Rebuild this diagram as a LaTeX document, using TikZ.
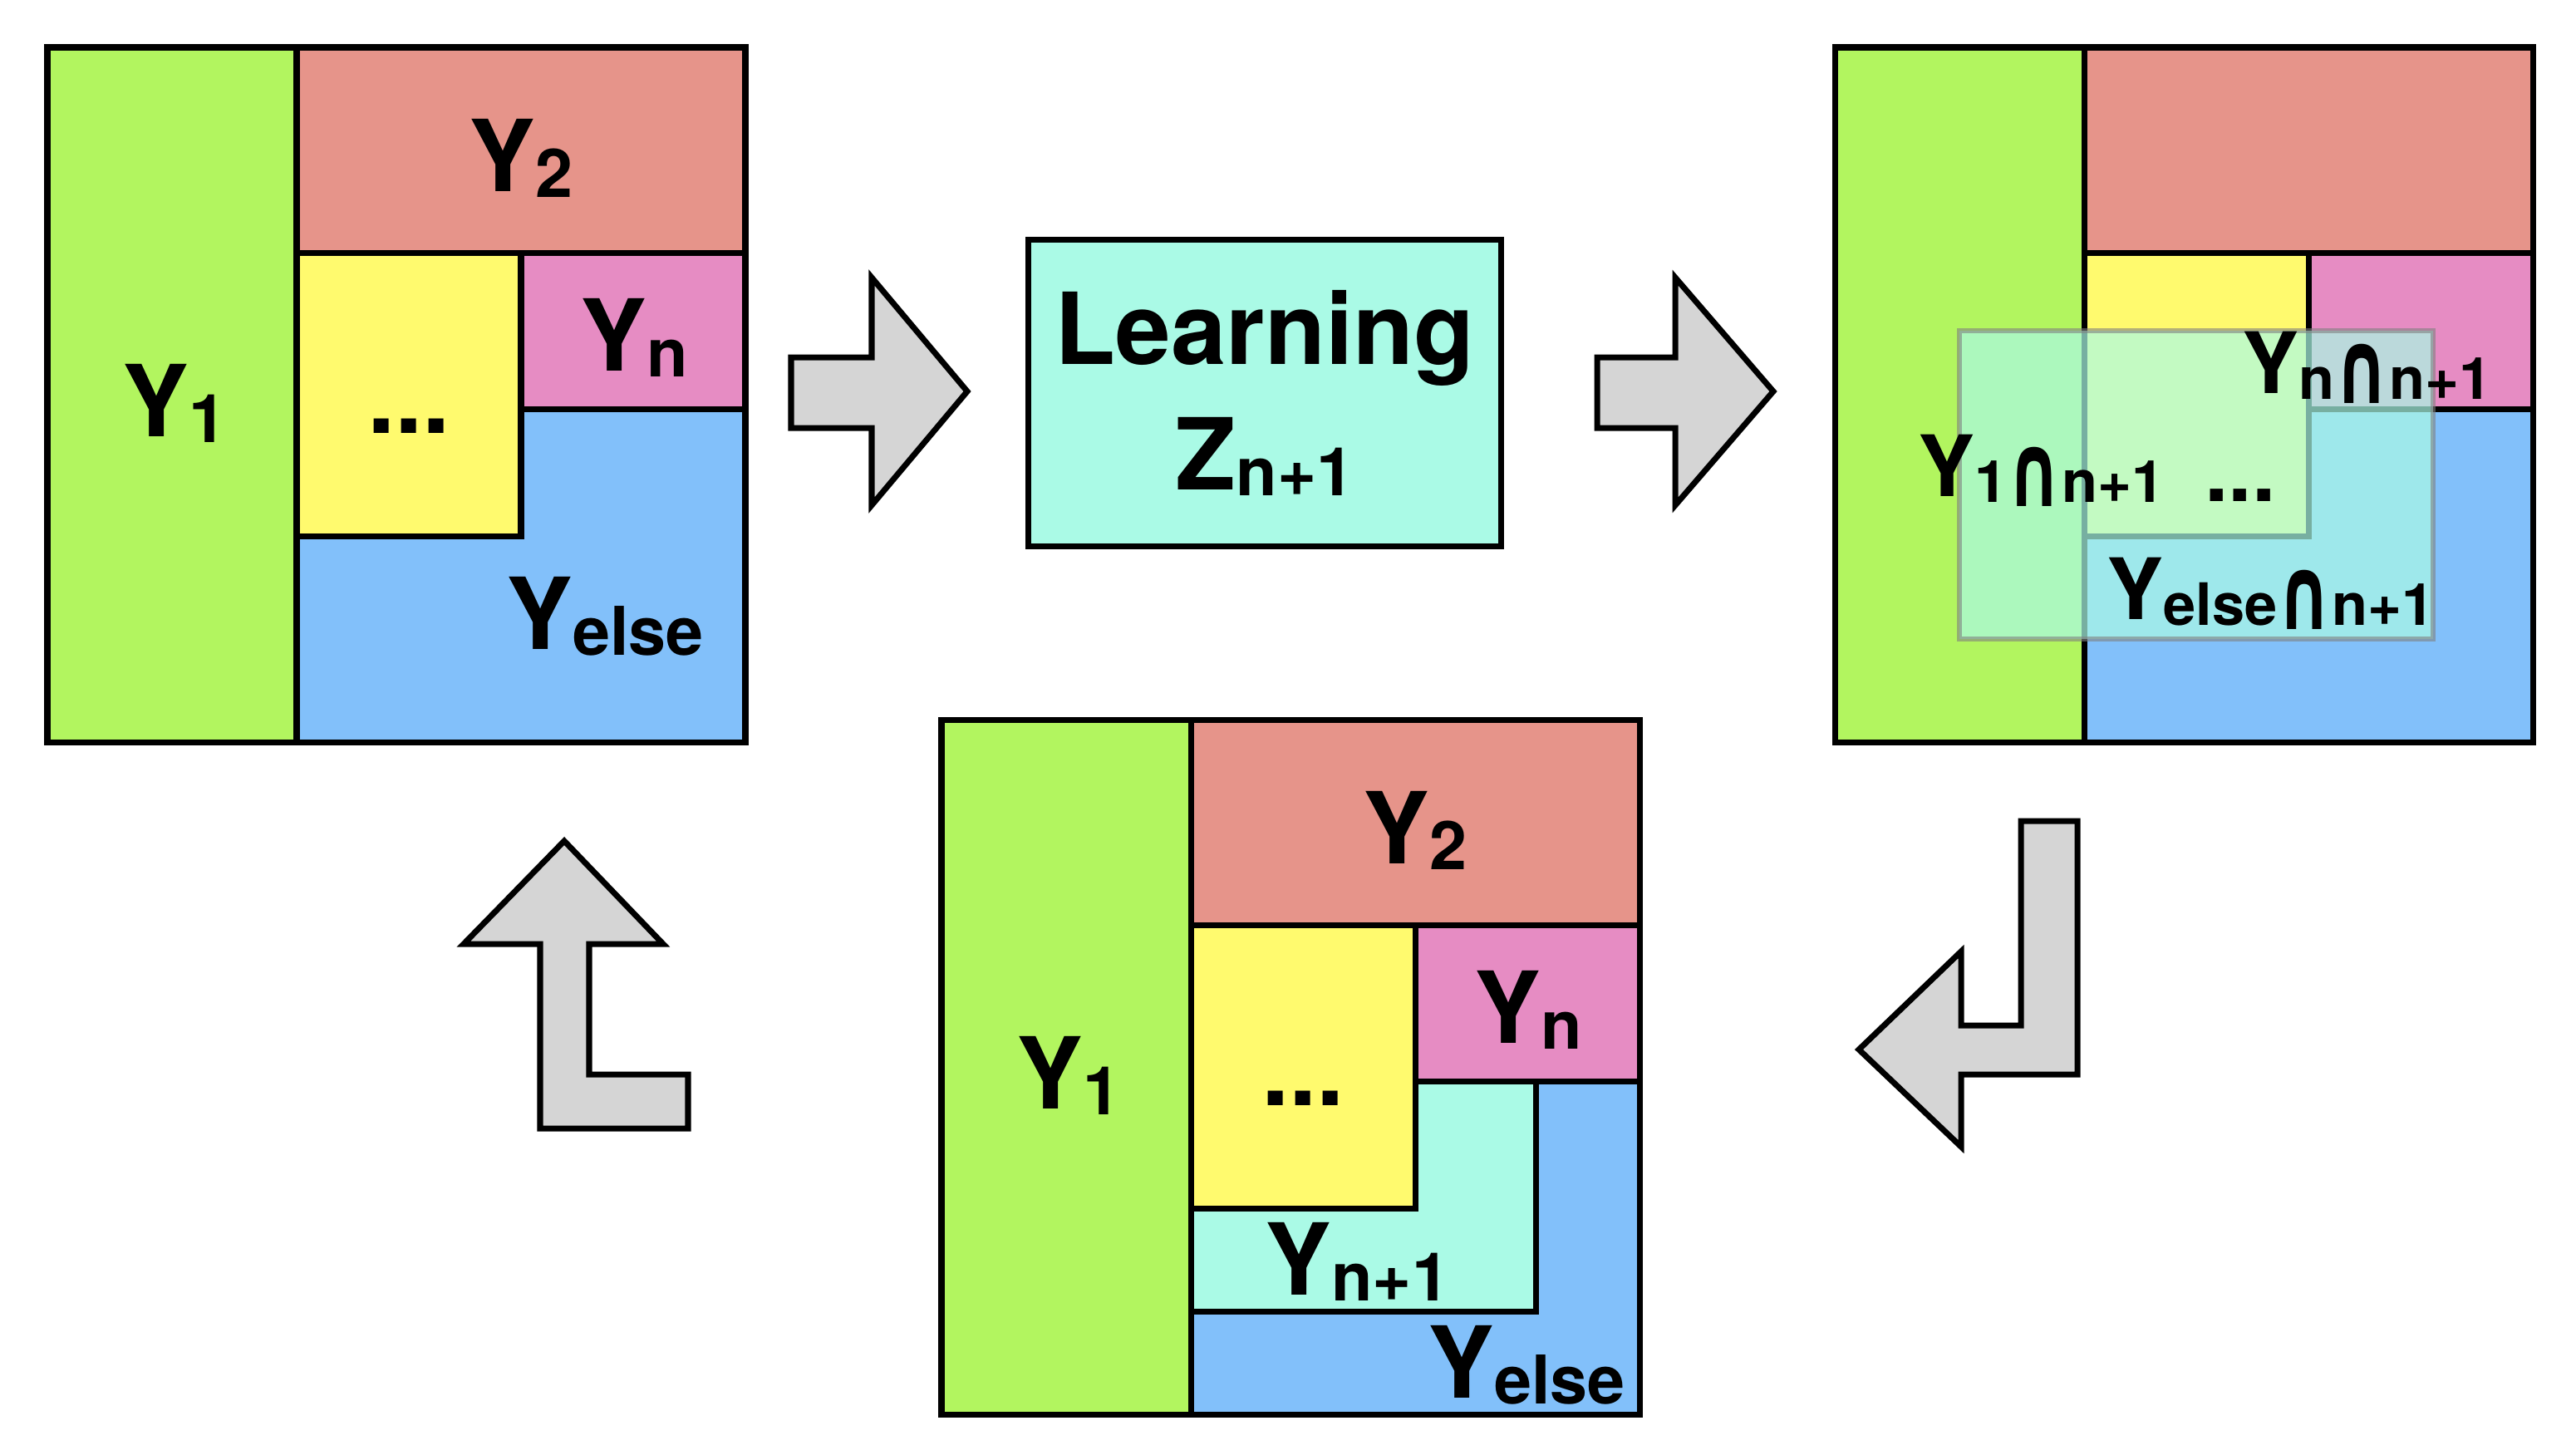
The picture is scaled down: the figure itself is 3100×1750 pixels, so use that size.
\documentclass[tikz,border=0pt]{standalone}
\usepackage{fontspec}
\setmainfont{TeX Gyre Heros}
\newfontfamily\symfont{DejaVu Sans}
\usetikzlibrary{positioning}

\definecolor{ygreen}{HTML}{B2F55F}
\definecolor{yred}{HTML}{E6948A}
\definecolor{yyellow}{HTML}{FFFA6E}
\definecolor{ypink}{HTML}{E68CC3}
\definecolor{yblue}{HTML}{82C0FA}
\definecolor{ycyan}{HTML}{AAFAE6}
\definecolor{arrowgray}{HTML}{D5D5D5}

% letter with a lowered index
\newcommand{\Yidx}[2][Y]{#1{\fontsize{23}{26}\selectfont\raisebox{-2pt}{#2}}}
\newcommand{\Ycap}[1]{Y{\fontsize{20}{23}\selectfont\raisebox{-2pt}{#1}}}
\newcommand{\capsym}{\raisebox{-1.5pt}{\scalebox{1.15}[1.75]{\symfont ∩}}}

\tikzset{
    part/.style={draw=black, line width=2pt},
    lab/.style={inner sep=0pt, anchor=base west, font=\bfseries\fontsize{34}{41}\selectfont},
    smalllab/.style={inner sep=0pt, anchor=base west, font=\bfseries\fontsize{29}{33}\selectfont},
    learnbox/.style={rectangle, draw=black, line width=2pt, fill=ycyan, minimum width=5.69cm, minimum height=3.69cm, align=center, font=\bfseries\fontsize{34}{43}\selectfont},
    bigarrow/.style={draw=black, line width=2pt, fill=arrowgray, line join=miter},
    overlay/.style={fill=ycyan, fill opacity=0.7, draw=gray, draw opacity=0.6, line width=1.6pt}
}

% the partition of one panel, origin at its top left corner
\newcommand{\panelparts}{%
    \fill[yblue] (300,0) rectangle (840,836);
    \filldraw[part, fill=ygreen] (0,0) rectangle (300,836);
    \filldraw[part, fill=yred] (300,0) rectangle (840,247);
    \filldraw[part, fill=yyellow] (300,247) rectangle (570,588);
    \filldraw[part, fill=ypink] (570,247) rectangle (840,435);
}

\begin{document}
\begin{tikzpicture}[x=0.01cm, y=-0.01cm]

\fill[white] (0,0) rectangle (3100,1750);
\useasboundingbox (0,0) rectangle (3100,1750);

% Left panel
\begin{scope}[shift={(57,57)}]
    \panelparts
    \draw[part] (0,0) rectangle (840,836);
    \node (l1) [lab] at (90,468) {\Yidx{1}};
    \node (l2) [lab] at (507,173) {\Yidx{2}};
    \node (ln) [lab] at (641,389) {\Yidx{n}};
    \node (ldots) [lab, anchor=base] at (435,464) {...};
    \node (lelse) [lab] at (552,724) {\Yidx{else}};
\end{scope}

% Learning step
\node (learn) [learnbox] at (1522,473) {Learning\\\Yidx[Z]{n+1}};

% Right panel
\begin{scope}[shift={(2208,57)}]
    \panelparts
    \filldraw[overlay] (150,341) rectangle (720,712);
    \draw[part] (0,0) rectangle (840,836);
    \node (rn) [smalllab] at (490,416) {\Ycap{n\capsym n+1}};
    \node (r1) [smalllab] at (100,540) {\Ycap{1\capsym n+1}};
    \node (rdots) [smalllab, anchor=base] at (488,546) {...};
    \node (relse) [smalllab] at (327,688) {\Ycap{else\capsym n+1}};
\end{scope}

% Bottom panel
\begin{scope}[shift={(1133,866)}]
    \panelparts
    \filldraw[part, fill=ycyan] (570,435) -- (715,435) -- (715,712) -- (300,712) -- (300,588) -- (570,588) -- cycle;
    \filldraw[part, fill=yyellow] (300,247) rectangle (570,588);
    \draw[part] (0,0) rectangle (840,836);
    \node (b1) [lab] at (90,468) {\Yidx{1}};
    \node (b2) [lab] at (507,173) {\Yidx{2}};
    \node (bn) [lab] at (641,389) {\Yidx{n}};
    \node (bdots) [lab, anchor=base] at (435,464) {...};
    \node (bnext) [lab] at (389,692) {\Yidx{n+1}};
    \node (belse) [lab] at (585,816) {\Yidx{else}};
\end{scope}

% Block arrows
\filldraw[bigarrow] (952,430) -- (1049,430) -- (1049,334) -- (1164,471) -- (1049,608) -- (1049,515) -- (952,515) -- cycle;
\filldraw[bigarrow] (1922,430) -- (2016,430) -- (2016,334) -- (2134,471) -- (2016,608) -- (2016,515) -- (1922,515) -- cycle;
\filldraw[bigarrow] (2500,988) -- (2500,1293) -- (2360,1293) -- (2360,1380) -- (2237,1263) -- (2360,1145) -- (2360,1234) -- (2432,1234) -- (2432,988) -- cycle;
\filldraw[bigarrow] (679,1012) -- (798,1136) -- (709,1136) -- (709,1293) -- (828,1293) -- (828,1358) -- (650,1358) -- (650,1136) -- (558,1136) -- cycle;

\end{tikzpicture}
\end{document}
